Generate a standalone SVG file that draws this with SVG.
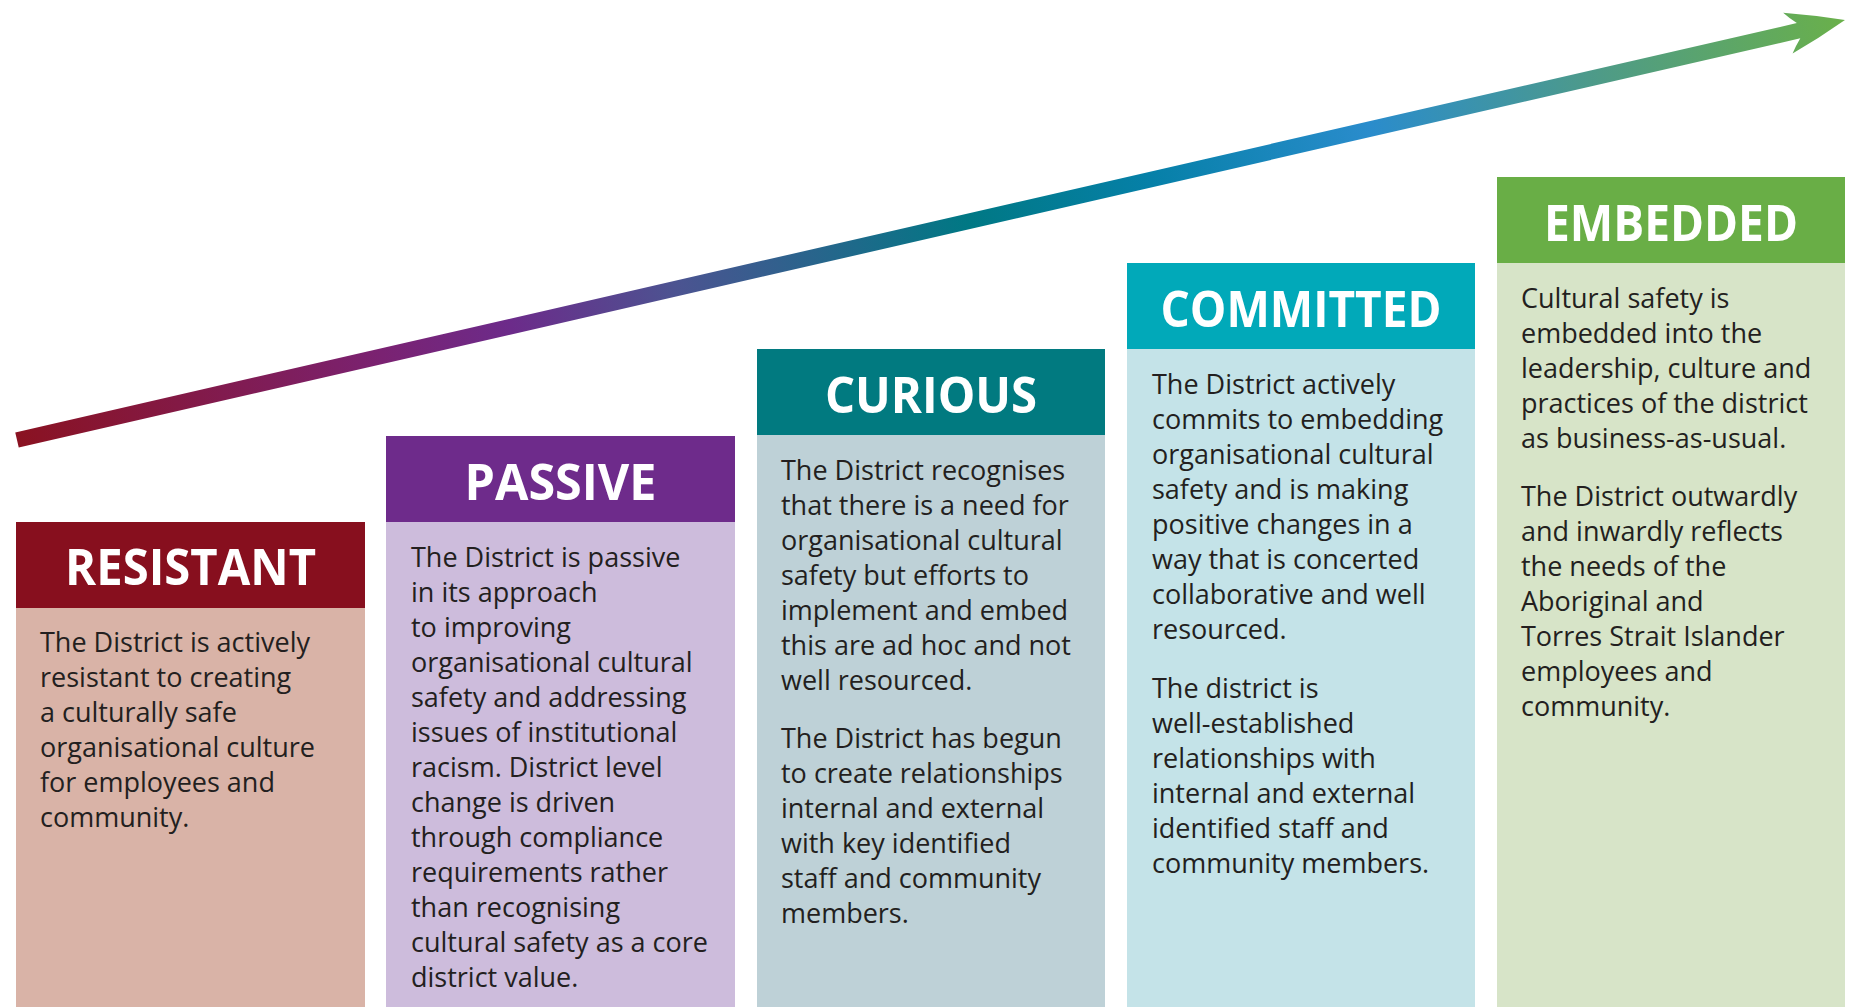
<svg xmlns="http://www.w3.org/2000/svg" width="1869" height="1007" viewBox="0 0 1869 1007">
  <defs>
    <linearGradient id="arrowGrad" gradientUnits="userSpaceOnUse" x1="0" y1="0" x2="1876" y2="0">
      <stop offset="0" stop-color="#8a1221"/>
      <stop offset="0.2" stop-color="#7a2272"/>
      <stop offset="0.27" stop-color="#6c2b8a"/>
      <stop offset="0.36" stop-color="#4c5391"/>
      <stop offset="0.46" stop-color="#1d6a8a"/>
      <stop offset="0.52" stop-color="#007884"/>
      <stop offset="0.62" stop-color="#0680a8"/>
      <stop offset="0.74" stop-color="#2a8ccc"/>
      <stop offset="0.86" stop-color="#4d9a8a"/>
      <stop offset="1" stop-color="#6ab04a"/>
    </linearGradient>
    <style>
      .head { font-family: "Open Sans", "Noto Sans", sans-serif; font-weight: 700; font-size: 51px; fill: #ffffff; text-anchor: middle; }
      .body { font-family: "Open Sans", "Noto Sans", sans-serif; font-size: 27px; font-weight: 500; fill: #231f20; }
    </style>
  </defs>

  <rect width="1869" height="1007" fill="#ffffff"/>

  <!-- progression arrow -->
  <g id="connectors">
    <g transform="translate(17,440) rotate(-12.94)">
      <path d="M0,-7.8 L1828,-7.8 Q1822,-14 1817,-21 Q1846,-12 1875.6,0 Q1846,12 1817,21 Q1822,14 1828,7.8 L0,7.8 Z" fill="url(#arrowGrad)"/>
    </g>
  </g>

  <!-- stage 1 -->
  <g id="resistant">
    <rect x="16" y="607" width="349" height="400" fill="#d9b3a7"/>
    <rect x="16" y="522" width="349" height="86" fill="#870f1e"/>
    <text class="head" x="190.5" y="585" textLength="251" lengthAdjust="spacingAndGlyphs">RESISTANT</text>
    <text class="body" x="40" y="652">
      <tspan x="40">The District is actively</tspan>
      <tspan x="40" dy="35">resistant to creating</tspan>
      <tspan x="40" dy="35">a culturally safe</tspan>
      <tspan x="40" dy="35">organisational culture</tspan>
      <tspan x="40" dy="35">for employees and</tspan>
      <tspan x="40" dy="35">community.</tspan>
    </text>
  </g>

  <!-- stage 2 -->
  <g id="passive">
    <rect x="386" y="521" width="349" height="486" fill="#cdbcdc"/>
    <rect x="386" y="436" width="349" height="86" fill="#6e2b8b"/>
    <text class="head" x="560.5" y="500" textLength="192" lengthAdjust="spacingAndGlyphs">PASSIVE</text>
    <text class="body" x="411" y="567">
      <tspan x="411">The District is passive</tspan>
      <tspan x="411" dy="35">in its approach</tspan>
      <tspan x="411" dy="35">to improving</tspan>
      <tspan x="411" dy="35">organisational cultural</tspan>
      <tspan x="411" dy="35">safety and addressing</tspan>
      <tspan x="411" dy="35">issues of institutional</tspan>
      <tspan x="411" dy="35">racism. District level</tspan>
      <tspan x="411" dy="35">change is driven</tspan>
      <tspan x="411" dy="35">through compliance</tspan>
      <tspan x="411" dy="35">requirements rather</tspan>
      <tspan x="411" dy="35">than recognising</tspan>
      <tspan x="411" dy="35">cultural safety as a core</tspan>
      <tspan x="411" dy="35">district value.</tspan>
    </text>
  </g>

  <!-- stage 3 -->
  <g id="curious">
    <rect x="757" y="434" width="348" height="573" fill="#bed1d7"/>
    <rect x="757" y="349" width="348" height="86" fill="#017a80"/>
    <text class="head" x="931" y="413" textLength="212" lengthAdjust="spacingAndGlyphs">CURIOUS</text>
    <text class="body" x="781" y="480">
      <tspan x="781">The District recognises</tspan>
      <tspan x="781" dy="35">that there is a need for</tspan>
      <tspan x="781" dy="35">organisational cultural</tspan>
      <tspan x="781" dy="35">safety but efforts to</tspan>
      <tspan x="781" dy="35">implement and embed</tspan>
      <tspan x="781" dy="35">this are ad hoc and not</tspan>
      <tspan x="781" dy="35">well resourced.</tspan>
      <tspan x="781" dy="58">The District has begun</tspan>
      <tspan x="781" dy="35">to create relationships</tspan>
      <tspan x="781" dy="35">internal and external</tspan>
      <tspan x="781" dy="35">with key identified</tspan>
      <tspan x="781" dy="35">staff and community</tspan>
      <tspan x="781" dy="35">members.</tspan>
    </text>
  </g>

  <!-- stage 4 -->
  <g id="committed">
    <rect x="1127" y="348" width="348" height="659" fill="#c4e3e8"/>
    <rect x="1127" y="263" width="348" height="86" fill="#01a9b9"/>
    <text class="head" x="1301" y="327" textLength="281" lengthAdjust="spacingAndGlyphs">COMMITTED</text>
    <text class="body" x="1152" y="394">
      <tspan x="1152">The District actively</tspan>
      <tspan x="1152" dy="35">commits to embedding</tspan>
      <tspan x="1152" dy="35">organisational cultural</tspan>
      <tspan x="1152" dy="35">safety and is making</tspan>
      <tspan x="1152" dy="35">positive changes in a</tspan>
      <tspan x="1152" dy="35">way that is concerted</tspan>
      <tspan x="1152" dy="35">collaborative and well</tspan>
      <tspan x="1152" dy="35">resourced.</tspan>
      <tspan x="1152" dy="59">The district is</tspan>
      <tspan x="1152" dy="35">well-established</tspan>
      <tspan x="1152" dy="35">relationships with</tspan>
      <tspan x="1152" dy="35">internal and external</tspan>
      <tspan x="1152" dy="35">identified staff and</tspan>
      <tspan x="1152" dy="35">community members.</tspan>
    </text>
  </g>

  <!-- stage 5 -->
  <g id="embedded">
    <rect x="1497" y="262" width="348" height="745" fill="#d7e4c8"/>
    <rect x="1497" y="177" width="348" height="86" fill="#69ae46"/>
    <text class="head" x="1671" y="241" textLength="254" lengthAdjust="spacingAndGlyphs">EMBEDDED</text>
    <text class="body" x="1521" y="308">
      <tspan x="1521">Cultural safety is</tspan>
      <tspan x="1521" dy="35">embedded into the</tspan>
      <tspan x="1521" dy="35">leadership, culture and</tspan>
      <tspan x="1521" dy="35">practices of the district</tspan>
      <tspan x="1521" dy="35">as business-as-usual.</tspan>
      <tspan x="1521" dy="58">The District outwardly</tspan>
      <tspan x="1521" dy="35">and inwardly reflects</tspan>
      <tspan x="1521" dy="35">the needs of the</tspan>
      <tspan x="1521" dy="35">Aboriginal and</tspan>
      <tspan x="1521" dy="35">Torres Strait Islander</tspan>
      <tspan x="1521" dy="35">employees and</tspan>
      <tspan x="1521" dy="35">community.</tspan>
    </text>
  </g>
</svg>
